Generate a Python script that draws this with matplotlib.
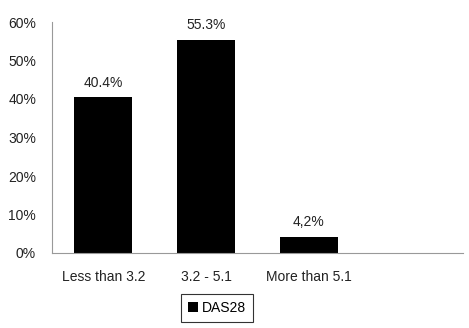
import matplotlib
matplotlib.use("Agg")
import matplotlib.pyplot as plt
from matplotlib.patches import Patch

categories = ["Less than 3.2", "3.2 - 5.1", "More than 5.1"]
values = [40.4, 55.3, 4.2]
value_labels = ["40.4%", "55.3%", "4,2%"]
series_name = "DAS28"
yticks = [0, 10, 20, 30, 40, 50, 60]

plt.rcParams['font.family'] = ['Liberation Sans', 'DejaVu Sans']
FS = 10
fig = plt.figure(figsize=(4.69, 3.28), dpi=100)
ax = fig.add_axes([52/469, 1-253/328, 411/469, 231/328])

x = [i + 0.5 for i in range(len(categories))]
ax.bar(x, values, width=0.565, color="black")
for xi, v, lab in zip(x, values, value_labels):
    ax.text(xi, v + 2.0, lab, ha="center", va="bottom", fontsize=FS, color="#222222")

ax.set_xlim(0, 4)
ax.set_ylim(0, 60)
ax.set_yticks(yticks)
ax.set_yticklabels([f"{t}%" for t in yticks], fontsize=FS, color="#222222")
ax.set_xticks(x)
ax.set_xticklabels(categories, fontsize=FS, color="#222222")
ax.tick_params(axis="both", length=0)
ax.tick_params(axis="y", pad=11.5)
ax.tick_params(axis="x", pad=12)
for s in ["top", "right"]:
    ax.spines[s].set_visible(False)
for s in ["left", "bottom"]:
    ax.spines[s].set_color("#999999")
    ax.spines[s].set_linewidth(0.8)

leg = ax.legend(handles=[Patch(facecolor="black", label=series_name)],
                loc="center", bbox_to_anchor=(217/469, 1-308/328),
                bbox_transform=fig.transFigure, fontsize=FS, frameon=True,
                fancybox=False, edgecolor="black", handlelength=0.7, handleheight=0.7,
                handletextpad=0.3, borderpad=0.5)
leg.get_frame().set_linewidth(0.8)

fig.savefig("out.png", dpi=100)
